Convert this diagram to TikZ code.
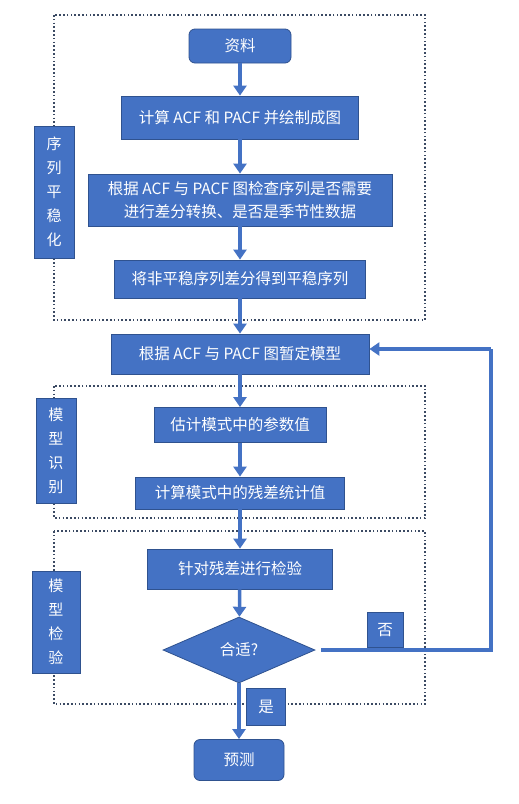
\documentclass[tikz,border=0pt]{standalone}
\usepackage{fontspec}
\setmainfont{Noto Sans CJK SC}
\usetikzlibrary{arrows.meta,shapes.geometric}

\definecolor{boxblue}{HTML}{4472C4}
\definecolor{boxedge}{HTML}{2F528F}
\definecolor{frame}{HTML}{3B4A63}

\tikzset{
  stepbox/.style={draw=boxedge, line width=0.8pt, fill=boxblue, text=white,
    inner sep=0pt, align=center, font=\fontsize{15.5}{23}\selectfont},
  endbox/.style={stepbox, rounded corners=6pt},
  decision/.style={stepbox, diamond, aspect=2.3},
  stagelabel/.style={stepbox, font=\fontsize{15}{24}\selectfont},
  flow/.style={draw=boxblue, line width=3.5pt, -{Triangle[length=10pt,width=13pt]}},
  flowline/.style={draw=boxblue, line width=3.5pt},
  stage/.style={draw=frame, line width=1.6pt, dash pattern=on 1.6pt off 2.2pt}
}

\begin{document}
\begin{tikzpicture}[x=1pt,y=-1pt]
  \useasboundingbox (0,0) rectangle (519,804);

  \draw[stage] (54,15) rectangle (425,320);
  \draw[stage] (54,386) rectangle (425,518);
  \draw[stage] (54,531) rectangle (425,704);

  \node[endbox, minimum width=102pt, minimum height=34pt] (data) at (240,46) {资料};
  \node[stepbox, minimum width=237pt, minimum height=43pt] (acf) at (240,117.5) {计算 ACF 和 PACF 并绘制成图};
  \node[stepbox, minimum width=304pt, minimum height=52pt] (check) at (240,200) {根据 ACF 与 PACF 图检查序列是否需要\\进行差分转换、是否是季节性数据};
  \node[stepbox, minimum width=251pt, minimum height=38pt] (diff) at (240,279) {将非平稳序列差分得到平稳序列};
  \node[stepbox, minimum width=258pt, minimum height=40pt] (tentative) at (240,354) {根据 ACF 与 PACF 图暂定模型};
  \node[stepbox, minimum width=172pt, minimum height=35pt] (estimate) at (240,425) {估计模式中的参数值};
  \node[stepbox, minimum width=209pt, minimum height=32pt] (resid) at (240,493) {计算模式中的残差统计值};
  \node[stepbox, minimum width=185pt, minimum height=40pt] (test) at (240,569) {针对残差进行检验};
  \node[decision, minimum width=152pt, minimum height=66pt] (fit) at (239,650) {合适?};
  \node[endbox, minimum width=90pt, minimum height=41pt] (forecast) at (239,760) {预测};

  \node[stagelabel, minimum width=40pt, minimum height=132pt] (stationary) at (54,192) {序\\列\\平\\稳\\化};
  \node[stagelabel, minimum width=40pt, minimum height=105pt] (identify) at (56,451) {模\\型\\识\\别};
  \node[stagelabel, minimum width=48pt, minimum height=102pt] (verify) at (56,622) {模\\型\\检\\验};

  \node[stepbox, minimum width=39pt, minimum height=37pt] (yes) at (266,707) {是};
  \node[stepbox, minimum width=36pt, minimum height=35pt] (no) at (385,630) {否};

  \coordinate (loopdown) at (491,650);
  \coordinate (loopup) at (491,349);

  \draw[flow] (data) -- (acf);
  \draw[flow] (acf) -- (check);
  \draw[flow] (check) -- (diff);
  \draw[flow] (diff) -- (tentative);
  \draw[flow] (tentative) -- (estimate);
  \draw[flow] (estimate) -- (resid);
  \draw[flow] (resid) -- (test);
  \draw[flow] (test) -- (fit);
  \draw[flow] (fit) -- (forecast);
  \draw[flowline] ([xshift=6pt]fit.east) -- (loopdown) -- (loopup);
  \draw[flow] (loopup) -- (tentative.east |- loopup);
\end{tikzpicture}
\end{document}
